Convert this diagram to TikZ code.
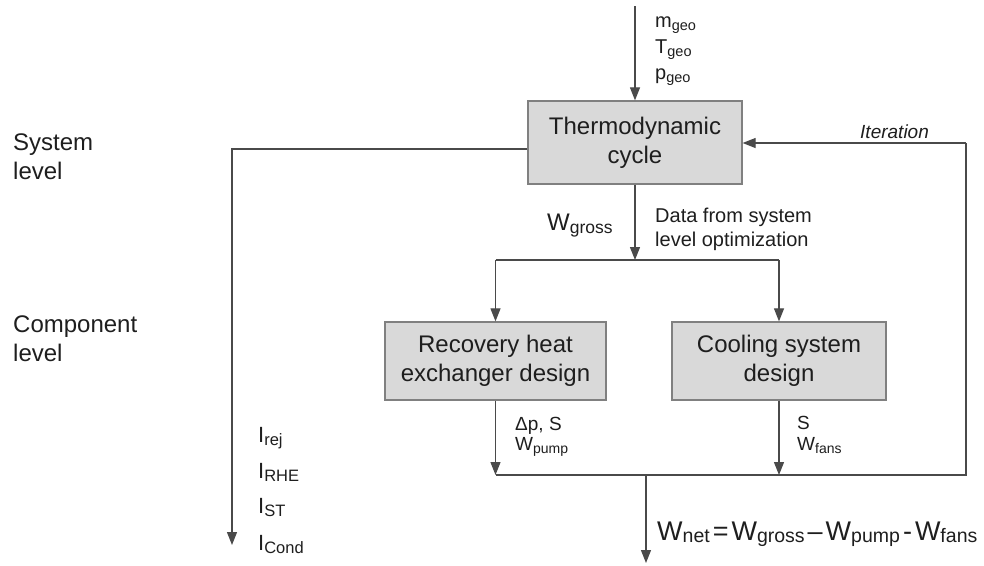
\documentclass[tikz,border=0pt]{standalone}
\usepackage{fontspec}
\setmainfont{Liberation Sans}
\usetikzlibrary{arrows.meta}

\definecolor{boxfill}{HTML}{D9D9D9}
\definecolor{boxline}{HTML}{808080}
\definecolor{wire}{HTML}{4A4A4A}
\definecolor{ink}{HTML}{1E1E1E}

\newcommand{\bigf}{\fontsize{24}{29}\selectfont}
\newcommand{\smallf}{\fontsize{19}{22}\selectfont}
\newcommand{\midf}{\fontsize{20}{23}\selectfont}
% lowered subscript of a given size
\newcommand{\lowsub}[2]{\raisebox{-3.5pt}{\fontsize{#1}{#1}\selectfont #2}}
\newcommand{\eqsub}[1]{\raisebox{-2.5pt}{\fontsize{19.5}{19.5}\selectfont #1}}
\newcommand{\gap}{\hspace{3pt}}

\begin{document}
\begin{tikzpicture}[x=1pt,y=-1pt,
  box/.style={draw=boxline, fill=boxfill, line width=1.3pt, align=center,
              font=\bigf, text=ink, inner sep=0pt},
  link/.style={draw=wire, line width=1.2pt},
  arr/.style={link, -{Triangle[length=13pt,width=10pt]}},
  lbl/.style={inner sep=0pt, anchor=base west, text=ink}]

\useasboundingbox (0,0) rectangle (984,565);

% blocks
\node[box, minimum width=214pt, minimum height=83pt] (cycle) at (635,142.5) {Thermodynamic\\cycle};
\node[box, minimum width=221pt, minimum height=78pt] (rhe) at (495.5,361) {Recovery heat\\exchanger design};
\node[box, minimum width=214pt, minimum height=78pt] (cool) at (779,361) {Cooling system\\design};

% junction points
\coordinate (in) at (635,6);
\coordinate (split) at (635,260);
\coordinate (splitL) at (495.5,260);
\coordinate (splitR) at (779,260);
\coordinate (joinL) at (495.5,475);
\coordinate (joinR) at (779,475);
\coordinate (iterB) at (966,475);
\coordinate (iterT) at (966,143);
\coordinate (out) at (646,475);
\coordinate (outEnd) at (646,563);
\coordinate (leftT) at (232,149);
\coordinate (leftB) at (232,545);

% connectors
\draw[arr] (in) -- (cycle.north);
\draw[arr] (cycle.south) -- (split);
\draw[link] (splitL) -- (splitR);
\draw[arr] (splitL) -- (rhe.north);
\draw[arr] (splitR) -- (cool.north);
\draw[arr] (rhe.south) -- (joinL);
\draw[arr] (cool.south) -- (joinR);
\draw[link] (joinL) -- (iterB) -- (iterT);
\draw[arr] (iterT) -- (cycle.east |- iterT);
\draw[arr] (out) -- (outEnd);
\draw[arr] (cycle.west |- leftT) -- (leftT) -- (leftB);

% level captions
\node[lbl, font=\bigf] (sys1) at (13,150) {System};
\node[lbl, font=\bigf] (sys2) at (13,179) {level};
\node[lbl, font=\bigf] (comp1) at (13,332) {Component};
\node[lbl, font=\bigf] (comp2) at (13,361) {level};

% geothermal inputs
\node[lbl, font=\midf] (mgeo) at (655,27) {m\lowsub{14.5}{geo}};
\node[lbl, font=\midf] (tgeo) at (655,53) {T\lowsub{14.5}{geo}};
\node[lbl, font=\midf] (pgeo) at (655,79) {p\lowsub{14.5}{geo}};

% iteration loop
\node[lbl, font=\smallf\itshape] (iter) at (860,138) {Iteration};

% cycle outputs
\node[lbl, font=\bigf] (wgross) at (547,230) {W\lowsub{17.5}{gross}};
\node[lbl, font=\midf] (data1) at (655,222) {Data from system};
\node[lbl, font=\midf] (data2) at (655,246) {level optimization};

% component outputs
\node[lbl, font=\smallf] (dps) at (515,430) {Δp, S};
\node[lbl, font=\smallf] (wpump) at (515,450) {W\lowsub{14}{pump}};
\node[lbl, font=\smallf] (sc) at (797,429) {S};
\node[lbl, font=\smallf] (wfans) at (797,450) {W\lowsub{14}{fans}};

% irreversibilities
\node[lbl, font=\fontsize{22}{24}\selectfont] (irej) at (258,442) {I\lowsub{16.5}{rej}};
\node[lbl, font=\fontsize{22}{24}\selectfont] (irhe) at (258,478) {I\lowsub{16.5}{RHE}};
\node[lbl, font=\fontsize{22}{24}\selectfont] (ist) at (258,513) {I\lowsub{16.5}{ST}};
\node[lbl, font=\fontsize{22}{24}\selectfont] (icond) at (258,550) {I\lowsub{16.5}{Cond}};

% net power
\node[lbl, font=\fontsize{27}{30}\selectfont] (wnet) at (657,540)
  {W\eqsub{net}\gap=\gap W\eqsub{gross}\gap–\gap W\eqsub{pump}\gap-\gap W\eqsub{fans}};
\end{tikzpicture}
\end{document}
